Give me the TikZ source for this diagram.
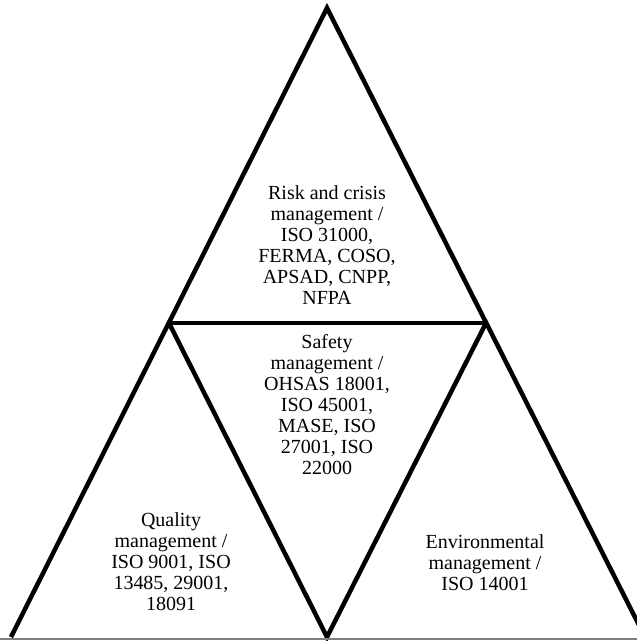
\documentclass[tikz,border=0pt]{standalone}
\usepackage{fontspec}
\setmainfont{Liberation Serif}
\begin{document}
\begin{tikzpicture}[x=1pt,y=-1pt,
  edge/.style={line width=4.5pt,line join=miter,black},
  lbl/.style={align=center,inner sep=0pt,font=\fontsize{20}{21}\selectfont}]
\useasboundingbox (0,0) rectangle (637,641);
\fill[white] (0,0) rectangle (637,641);
\coordinate (A) at (327,8);
\coordinate (L) at (169,323);
\coordinate (R) at (486,323);
\coordinate (M) at (327,637);
\coordinate (BL) at (11,637);
\coordinate (BR) at (645,637);
\coordinate (G1) at (0,639);
\coordinate (G2) at (637,639);
\begin{scope}
\clip (0,0) rectangle (637,641);
\draw[edge] (BL) -- (A) -- (BR);
\draw[edge] (L) -- (R);
\draw[edge] (L) -- (M) -- (R);
\end{scope}
\draw[gray,line width=1.5pt] (G1) -- (G2);
\node[lbl] (risk) at (327,245) {Risk and crisis\\management /\\ISO 31000,\\FERMA, COSO,\\APSAD, CNPP,\\NFPA};
\node[lbl] (safety) at (327,405) {Safety\\management /\\OHSAS 18001,\\ISO 45001,\\MASE, ISO\\27001, ISO\\22000};
\node[lbl] (quality) at (171,562) {Quality\\management /\\ISO 9001, ISO\\13485, 29001,\\18091};
\node[lbl] (env) at (485,563) {Environmental\\management /\\ISO 14001};
\end{tikzpicture}
\end{document}
